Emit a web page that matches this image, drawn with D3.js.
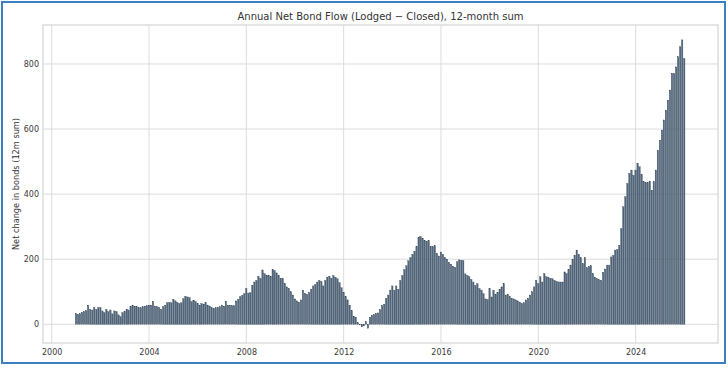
<!DOCTYPE html>
<html>
<head>
<meta charset="utf-8">
<script src="https://cdn.jsdelivr.net/npm/d3@7"></script>
<style>
  html, body { margin: 0; padding: 0; background: #fff; }
  svg { display: block; font-family: "DejaVu Sans", sans-serif; }
</style>
</head>
<body>
<svg id="chart" width="728" height="368"></svg>
<script>
// 1 - Data: 12-month rolling net bond flow, one value per month-end
const firstMonth = [2000, 11]; // Dec 2000 (month index 11)
const netFlow = [
  33,
  30, 33, 37, 39, 42, 59, 46, 44, 52, 46, 51, 52,            // 2001
  41, 36, 46, 39, 44, 32, 41, 39, 29, 24, 36, 39,            // 2002
  46, 44, 54, 59, 56, 54, 51, 51, 54, 56, 57, 59,            // 2003
  59, 70, 56, 54, 51, 46, 54, 59, 66, 67, 66, 77,            // 2004
  72, 67, 64, 66, 79, 86, 84, 82, 70, 74, 70, 64,            // 2005
  59, 64, 62, 66, 59, 56, 51, 49, 51, 52, 54, 59,            // 2006
  56, 71, 59, 59, 57, 57, 72, 77, 85, 89, 94, 110,           // 2007
  96, 97, 120, 130, 135, 148, 141, 167, 156, 151, 151, 148,  // 2008
  169, 165, 158, 150, 141, 140, 125, 115, 110, 100, 90, 78,  // 2009
  72, 68, 75, 105, 95, 92, 98, 108, 118, 122, 130, 135,      // 2010
  132, 118, 135, 145, 148, 142, 150, 145, 140, 128, 112, 98, // 2011
  85, 75, 58, 42, 25, 22, 5, -2, -8, -5, 8, -12,             // 2012
  22, 28, 30, 33, 35, 45, 58, 62, 80, 90, 105, 118,          // 2013
  105, 118, 108, 135, 150, 168, 180, 195, 205, 215, 225, 238, // 2014
  268, 270, 265, 258, 255, 258, 240, 238, 242, 218, 210, 222, // 2015
  215, 205, 200, 190, 185, 178, 175, 192, 198, 197, 196, 155, // 2016
  150, 146, 138, 130, 120, 125, 110, 105, 94, 78, 76, 110,   // 2017
  84, 105, 92, 98, 108, 115, 125, 90, 92, 85, 80, 78,        // 2018
  75, 72, 68, 64, 66, 75, 80, 90, 100, 115, 135, 125,        // 2019
  146, 130, 156, 146, 145, 141, 140, 135, 132, 130, 130, 130, // 2020
  161, 156, 168, 182, 200, 212, 228, 215, 205, 187, 205, 174, // 2021
  178, 180, 156, 145, 140, 137, 135, 160, 170, 182, 182, 207, // 2022
  212, 228, 230, 243, 294, 361, 392, 433, 464, 474, 458, 474, // 2023
  494, 484, 460, 438, 435, 435, 440, 412, 438, 474, 535, 566, // 2024
  597, 628, 658, 689, 720, 771, 771, 791, 822, 853, 874, 817  // 2025
];
const yTicks = [0, 200, 400, 600, 800];
const xTickYears = [2000, 2004, 2008, 2012, 2016, 2020, 2024];

const titleText = "Annual Net Bond Flow (Lodged \u2212 Closed), 12-month sum";
const yLabelText = "Net change in bonds (12m sum)";

// month-end dates
const datas = netFlow.map((v, i) => ({
  date: new Date(firstMonth[0], firstMonth[1] + i + 1, 0),
  value: v
}));

// 2 - Layout
const svg = d3.select("#chart");
const plot = { left: 43, right: 718, top: 25, bottom: 343 };

const decToDate = (y) => {
  const yr = Math.floor(y);
  const start = new Date(yr, 0, 1), end = new Date(yr + 1, 0, 1);
  return new Date(+start + (y - yr) * (end - start));
};

const x = d3.scaleTime()
  .domain([decToDate(1999.642), decToDate(2027.386)])
  .range([plot.left, plot.right]);

const y = d3.scaleLinear()
  .domain([-57.5, 919.8])
  .range([plot.bottom, plot.top]);

// outer frame
svg.append("rect")
  .attr("x", 2).attr("y", 2)
  .attr("width", 723).attr("height", 361)
  .attr("fill", "#fff")
  .attr("stroke", "#3a80bf")
  .attr("stroke-width", 2);

// 3 - Grid
const grid = svg.append("g");
grid.selectAll("line.gy")
  .data(yTicks)
  .enter().append("line")
  .attr("x1", plot.left).attr("x2", plot.right)
  .attr("y1", d => y(d)).attr("y2", d => y(d))
  .attr("stroke", "#dcdcdc").attr("stroke-width", 1);

grid.selectAll("line.gx")
  .data(xTickYears)
  .enter().append("line")
  .attr("x1", d => x(new Date(d, 0, 1))).attr("x2", d => x(new Date(d, 0, 1)))
  .attr("y1", plot.top).attr("y2", plot.bottom)
  .attr("stroke", "#dcdcdc").attr("stroke-width", 1);

// plot frame
svg.append("rect")
  .attr("x", plot.left).attr("y", plot.top)
  .attr("width", plot.right - plot.left)
  .attr("height", plot.bottom - plot.top)
  .attr("fill", "none")
  .attr("stroke", "#d8d8d8")
  .attr("stroke-width", 1.3);

// 4 - Bars
const halfW = 11; // days on each side of the month-end
svg.append("g")
  .selectAll("rect")
  .data(datas)
  .enter().append("rect")
  .attr("x", d => x(d3.timeDay.offset(d.date, -halfW)))
  .attr("width", d => x(d3.timeDay.offset(d.date, halfW)) - x(d3.timeDay.offset(d.date, -halfW)))
  .attr("y", d => y(Math.max(0, d.value)))
  .attr("height", d => Math.abs(y(d.value) - y(0)))
  .attr("fill", "#52667c")
  .attr("stroke", "#34465a")
  .attr("stroke-width", 0.3);

// 5 - Axes (labels only, no tick marks)
const xAxis = d3.axisBottom(x)
  .tickValues(xTickYears.map(v => new Date(v, 0, 1)))
  .tickFormat(d3.timeFormat("%Y"))
  .tickSize(0).tickPadding(6);

svg.append("g")
  .attr("transform", `translate(0,${plot.bottom})`)
  .call(xAxis)
  .call(g => g.select(".domain").remove())
  .selectAll("text")
  .attr("font-family", "DejaVu Sans")
  .attr("font-size", 8)
  .attr("fill", "#3a3a3a");

const yAxis = d3.axisLeft(y)
  .tickValues(yTicks)
  .tickFormat(d3.format("d"))
  .tickSize(0).tickPadding(4);

svg.append("g")
  .attr("transform", `translate(${plot.left},0)`)
  .call(yAxis)
  .call(g => g.select(".domain").remove())
  .selectAll("text")
  .attr("font-family", "DejaVu Sans")
  .attr("font-size", 8)
  .attr("fill", "#3a3a3a");

// 6 - Title and y label
svg.append("text")
  .attr("x", (plot.left + plot.right) / 2)
  .attr("y", 20)
  .attr("text-anchor", "middle")
  .attr("font-size", 10)
  .attr("fill", "#333")
  .text(titleText);

svg.append("text")
  .attr("transform", `translate(19,${(plot.top + plot.bottom) / 2}) rotate(-90)`)
  .attr("text-anchor", "middle")
  .attr("font-size", 8.2)
  .attr("fill", "#333")
  .text(yLabelText);
</script>
</body>
</html>
